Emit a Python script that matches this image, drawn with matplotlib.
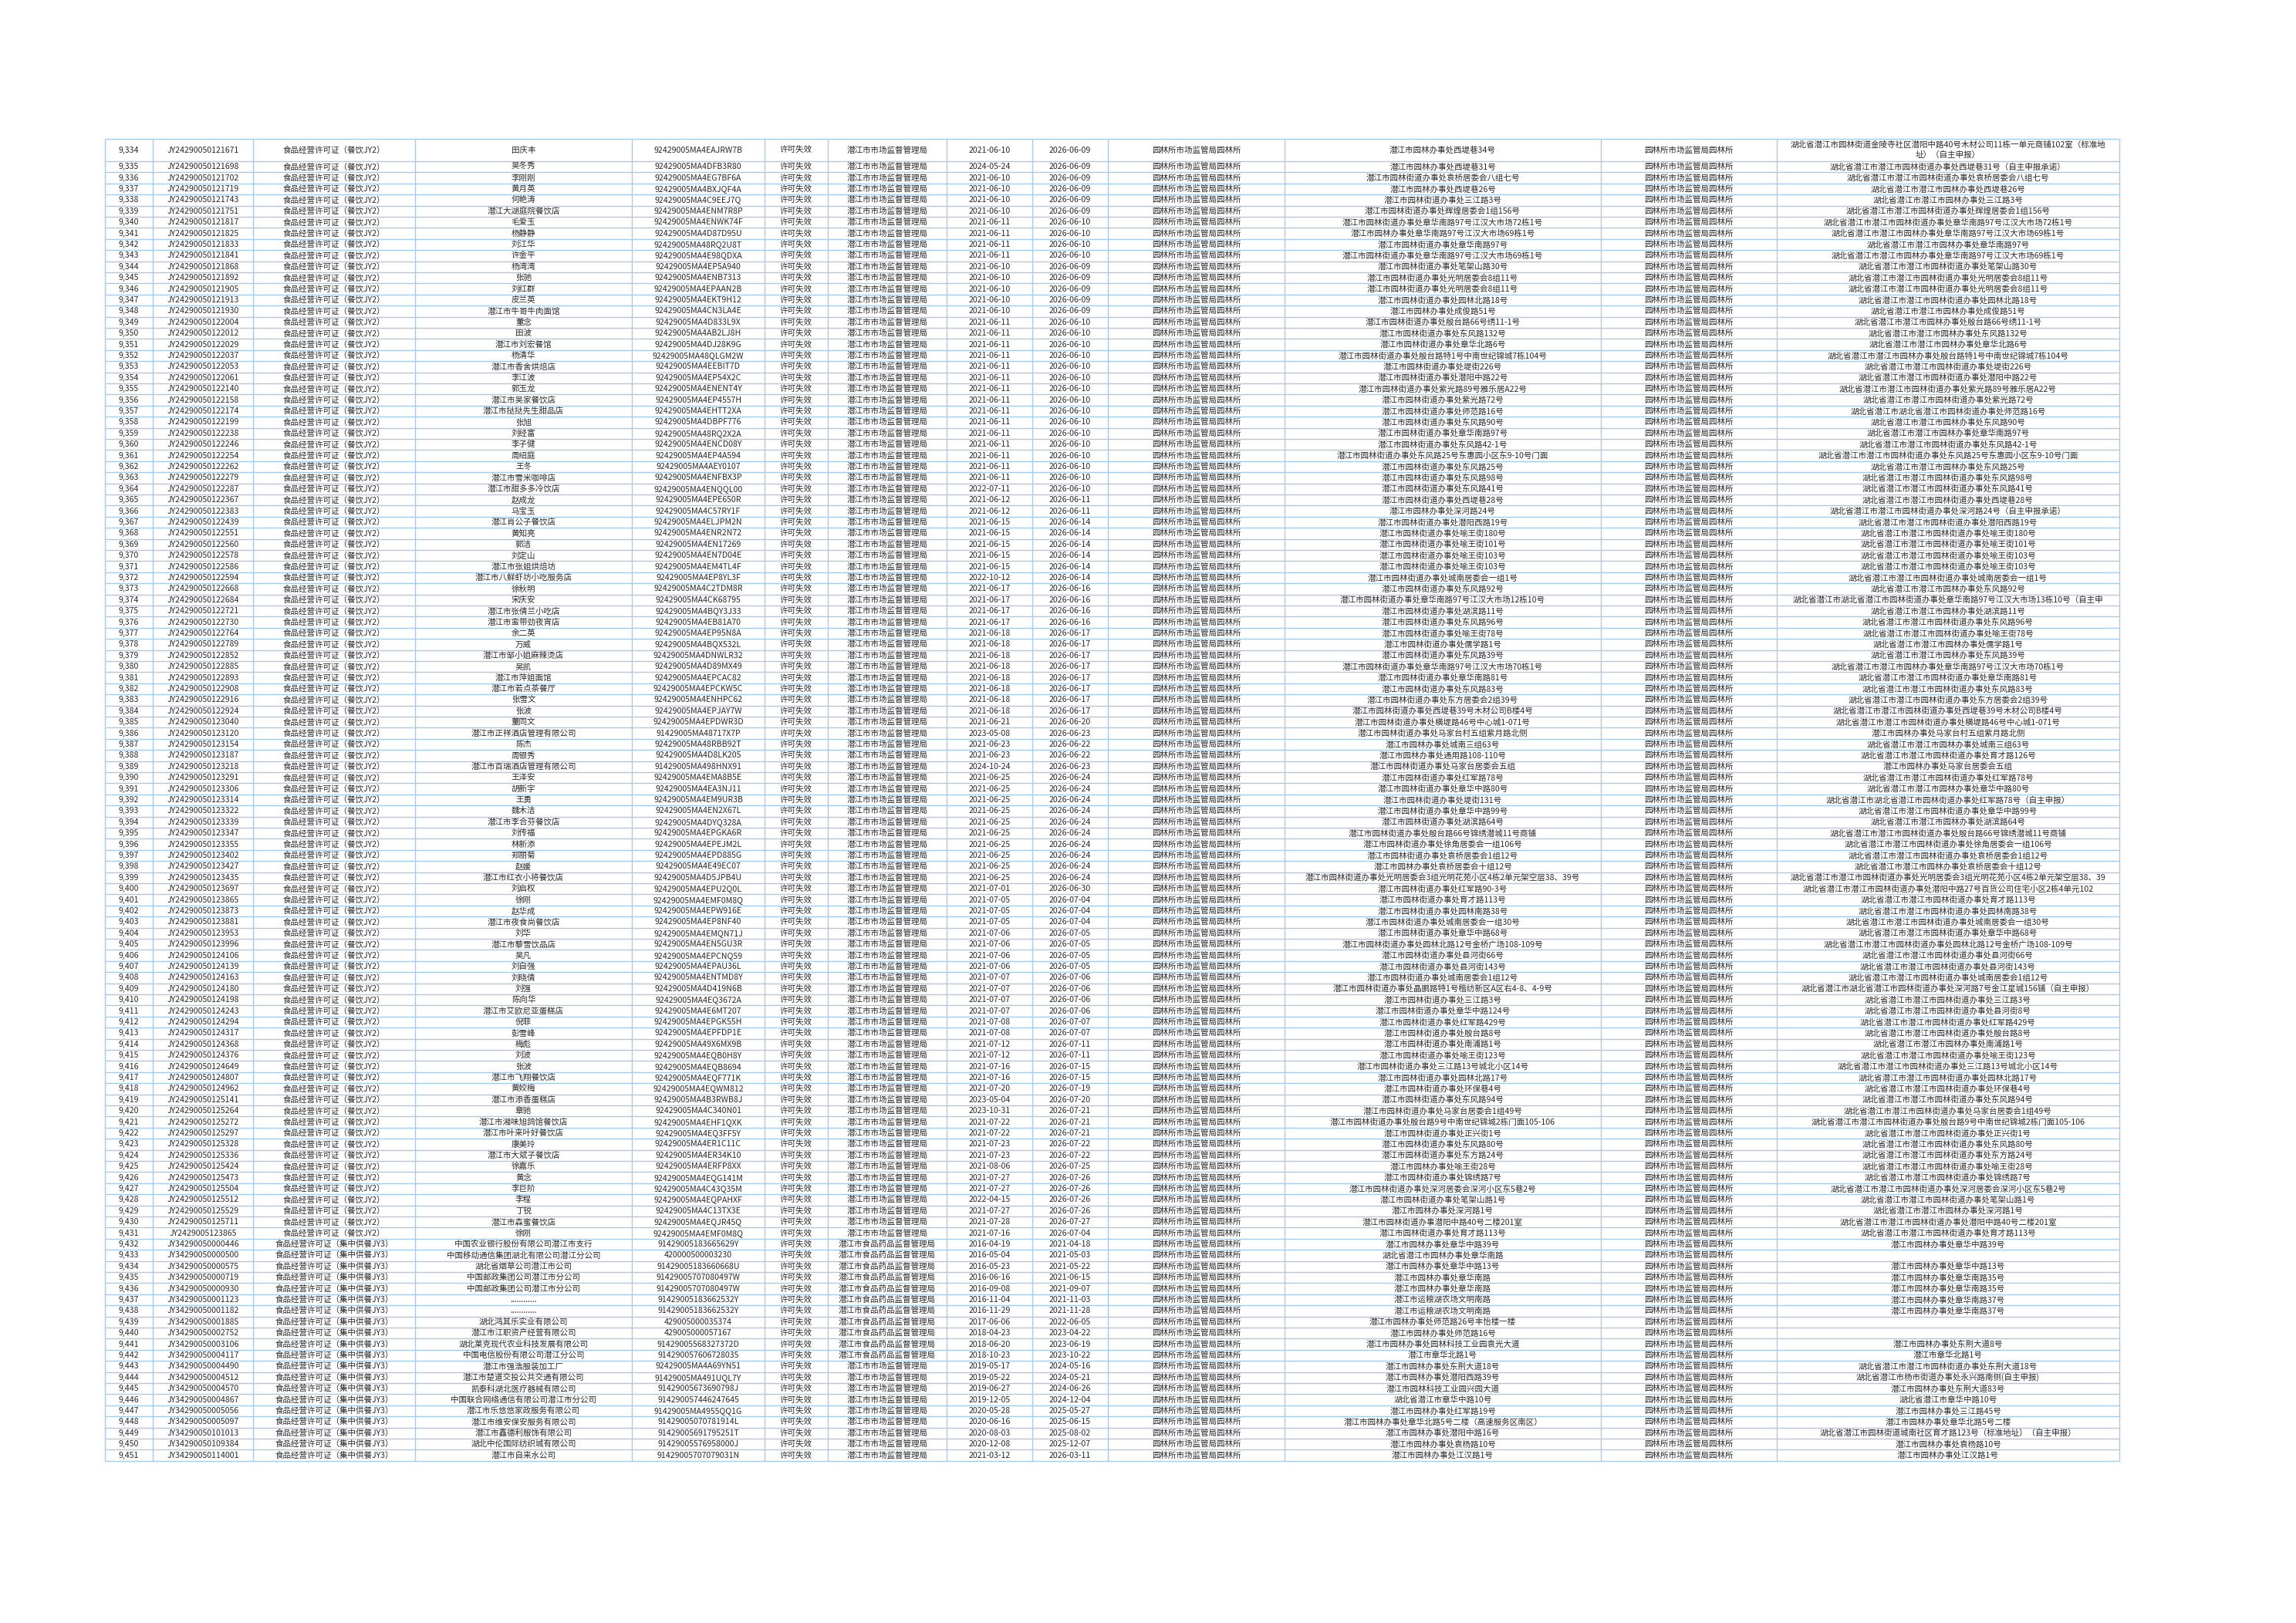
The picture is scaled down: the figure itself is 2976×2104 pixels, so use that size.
import matplotlib
matplotlib.use("Agg")
import matplotlib.pyplot as plt

plt.rcParams['font.family'] = ['Noto Sans CJK SC', 'DejaVu Sans']

# 表格数据
row_no = list(range(9334, 9452))

license_no = [
    "JY24290050121671", "JY24290050121698", "JY24290050121702", "JY24290050121719", "JY24290050121743",
    "JY24290050121751", "JY24290050121817", "JY24290050121825", "JY24290050121833", "JY24290050121841",
    "JY24290050121868", "JY24290050121892", "JY24290050121905", "JY24290050121913", "JY24290050121930",
    "JY24290050122004", "JY24290050122012", "JY24290050122029", "JY24290050122037", "JY24290050122053",
    "JY24290050122061", "JY24290050122140", "JY24290050122158", "JY24290050122174", "JY24290050122199",
    "JY24290050122238", "JY24290050122246", "JY24290050122254", "JY24290050122262", "JY24290050122279",
    "JY24290050122287", "JY24290050122367", "JY24290050122383", "JY24290050122439", "JY24290050122551",
    "JY24290050122560", "JY24290050122578", "JY24290050122586", "JY24290050122594", "JY24290050122668",
    "JY24290050122684", "JY24290050122721", "JY24290050122730", "JY24290050122764", "JY24290050122789",
    "JY24290050122852", "JY24290050122885", "JY24290050122893", "JY24290050122908", "JY24290050122916",
    "JY24290050122924", "JY24290050123040", "JY24290050123120", "JY24290050123154", "JY24290050123187",
    "JY24290050123218", "JY24290050123291", "JY24290050123306", "JY24290050123314", "JY24290050123322",
    "JY24290050123339", "JY24290050123347", "JY24290050123355", "JY24290050123402", "JY24290050123427",
    "JY24290050123435", "JY24290050123697", "JY24290050123865", "JY24290050123873", "JY24290050123881",
    "JY24290050123953", "JY24290050123996", "JY24290050124106", "JY24290050124139", "JY24290050124163",
    "JY24290050124180", "JY24290050124198", "JY24290050124243", "JY24290050124294", "JY24290050124317",
    "JY24290050124368", "JY24290050124376", "JY24290050124649", "JY24290050124807", "JY24290050124962",
    "JY24290050125141", "JY24290050125264", "JY24290050125272", "JY24290050125297", "JY24290050125328",
    "JY24290050125336", "JY24290050125424", "JY24290050125473", "JY24290050125504", "JY24290050125512",
    "JY24290050125529", "JY24290050125711", "JY2429005123865",
    "JY34290050000446", "JY34290050000500", "JY34290050000575", "JY34290050000719", "JY34290050000930",
    "JY34290050001123", "JY34290050001182", "JY34290050001885", "JY34290050002752", "JY34290050003106",
    "JY34290050004117", "JY34290050004490", "JY34290050004512", "JY34290050004570", "JY34290050004867",
    "JY34290050005056", "JY34290050005097", "JY34290050101013", "JY34290050109384", "JY34290050114001",
]

license_type = ["食品经营许可证（餐饮JY2）"] * 98 + ["食品经营许可证（集中供餐JY3）"] * 20

names = [
    "田庆丰", "吴冬秀", "李刚刚", "黄月英", "何艳涛", "潜江大湖庭院餐饮店", "毛爱玉", "杨静静", "刘江华", "许金平",
    "杨湾湾", "张驰", "刘红群", "皮兰英", "潜江市牛哥牛肉面馆", "董念", "田波", "潜江市刘宏餐馆", "杨清华",
    "潜江市香舍烘焙店", "李江波", "郭玉龙", "潜江市吴家餐饮店", "潜江市挞挞先生甜品店", "张旭", "刘经富", "李子健",
    "周绍庭", "王冬", "潜江市雪米咖啡店", "潜江市甜多多冷饮店", "赵成龙", "马宝玉", "潜江肖公子餐饮店", "黄知亮",
    "郭洁", "刘定山", "潜江市张姐烘焙坊", "潜江市八鲜虾坊小吃服务店", "徐秋明", "宋庆安", "潜江市张倩兰小吃店",
    "潜江市蛮带劲夜宵店", "余二英", "万威", "潜江市邹小姐麻辣烫店", "吴凯", "潜江市萍姐面馆", "潜江市若点茶餐厅",
    "张雪文", "张波", "董同文", "潜江市正祥酒店管理有限公司", "陈杰", "周银秀", "潜江市百瑞酒店管理有限公司",
    "王泽安", "胡新宇", "王勇", "魏木洁", "潜江市李合芬餐饮店", "刘传福", "林新添", "郑丽菊", "赵媛",
    "潜江市红衣小将餐饮店", "刘启权", "徐刚", "赵华成", "潜江市夜食尚餐饮店", "刘华", "潜江市藜雪饮品店", "吴凡",
    "刘自强", "刘晓倩", "刘强", "陈向华", "潜江市艾欧尼亚蛋糕店", "倪菲", "彭雪峰", "梅彪", "刘波", "张波",
    "潜江市飞翔餐饮店", "黄姣梅", "潜江市添香蛋糕店", "章驰", "潜江市湘味旭鸽馆餐饮店", "潜江市叶来叶好餐饮店",
    "康美玲", "潜江市大斌子餐饮店", "徐嘉乐", "黄念", "李巨阶", "李程", "丁锐", "潜江市森蜜餐饮店", "徐刚",
    "中国农业银行股份有限公司潜江市支行", "中国移动通信集团湖北有限公司潜江分公司", "湖北省烟草公司潜江市公司",
    "中国邮政集团公司潜江市分公司", "中国邮政集团公司潜江市分公司", "............", "............",
    "湖北鸿其乐实业有限公司", "潜江市江职资产经营有限公司", "湖北莱克现代农业科技发展有限公司",
    "中国电信股份有限公司潜江分公司", "潜江市强浩服装加工厂", "潜江市楚道交投公共交通有限公司",
    "凯泰科湖北医疗器械有限公司", "中国联合网络通信有限公司潜江市分公司", "潜江市乐悠悠家政服务有限公司",
    "潜江市维安保安服务有限公司", "潜江市鑫德利服饰有限公司", "湖北中伦国际纺织城有限公司", "潜江市自来水公司",
]

credit_code = [
    "92429005MA4EAJRW7B", "92429005MA4DFB3R80", "92429005MA4EG7BF6A", "92429005MA4BXJQF4A", "92429005MA4C9EEJ7Q",
    "92429005MA4ENM7R8P", "92429005MA4ENWK74F", "92429005MA4D87D95U", "92429005MA48RQ2U8T", "92429005MA4E98QDXA",
    "92429005MA4EP5A940", "92429005MA4ENB7313", "92429005MA4EPAAN2B", "92429005MA4EKT9H12", "92429005MA4CN3LA4E",
    "92429005MA4D833L9X", "92429005MA4AB2LJ8H", "92429005MA4DJ28K9G", "92429005MA48QLGM2W", "92429005MA4EEBIT7D",
    "92429005MA4EP54X2C", "92429005MA4ENENT4Y", "92429005MA4EP4557H", "92429005MA4EHTT2XA", "92429005MA4DBPF776",
    "92429005MA48RQ2X2A", "92429005MA4ENCD08Y", "92429005MA4EP4A594", "92429005MA4AEY0107", "92429005MA4ENFBX3P",
    "92429005MA4ENQQL00", "92429005MA4EPE650R", "92429005MA4C57RY1F", "92429005MA4ELJPM2N", "92429005MA4ENR2N72",
    "92429005MA4EN17269", "92429005MA4EN7D04E", "92429005MA4EM4TL4F", "92429005MA4EP8YL3F", "92429005MA4C2TDM8R",
    "92429005MA4CK68795", "92429005MA4BQY3J33", "92429005MA4EB81A70", "92429005MA4EP95N8A", "92429005MA4BQX532L",
    "92429005MA4DNWLR32", "92429005MA4D89MX49", "92429005MA4EPCAC82", "92429005MA4EPCKW5C", "92429005MA4ENHPC62",
    "92429005MA4EPJAY7W", "92429005MA4EPDWR3D", "91429005MA48717X7P", "92429005MA48RBB92T", "92429005MA4D8LK205",
    "91429005MA498HNX91", "92429005MA4EMA8B5E", "92429005MA4EA3NJ11", "92429005MA4EM9UR3B", "92429005MA4EN2X67L",
    "92429005MA4DYQ328A", "92429005MA4EPGKA6R", "92429005MA4EPEJM2L", "92429005MA4EPD885G", "92429005MA4E49EC07",
    "92429005MA4D5JPB4U", "92429005MA4EPU2Q0L", "92429005MA4EMF0M8Q", "92429005MA4EPW916E", "92429005MA4EP8NF40",
    "92429005MA4EMQN71J", "92429005MA4EN5GU3R", "92429005MA4EPCNQ59", "92429005MA4EPAU36L", "92429005MA4ENTMD8Y",
    "92429005MA4D419N6B", "92429005MA4EQ3672A", "92429005MA4E6MT207", "92429005MA4EPGK55H", "92429005MA4EPFDP1E",
    "92429005MA49X6MX9B", "92429005MA4EQB0H8Y", "92429005MA4EQB8694", "92429005MA4EQF771K", "92429005MA4EQWM812",
    "92429005MA4B3RWB8J", "92429005MA4C340N01", "92429005MA4EHF1QXK", "92429005MA4EQ3FF5Y", "92429005MA4ER1C11C",
    "92429005MA4ER34K10", "92429005MA4ERFP8XX", "92429005MA4EQG141M", "92429005MA4C43Q35M", "92429005MA4EQPAHXF",
    "92429005MA4C13TX3E", "92429005MA4EQJR45Q", "92429005MA4EMF0M8Q",
    "91429005183665629Y", "420000500003230", "91429005183660668U", "91429005707080497W", "91429005707080497W",
    "91429005183662532Y", "91429005183662532Y", "429005000035374", "429005000057167", "91429005568327372D",
    "914290057606728035", "92429005MA4A69YN51", "91429005MA491UQL7Y", "91429005673690798J", "914290057446247645",
    "91429005MA4955QQ1G", "91429005070781914L", "91429005691795251T", "91429005576958000J", "91429005707079031N",
]

status = ["许可失效"] * 118
authority = ["潜江市市场监督管理局"] * 98 + ["潜江市食品药品监督管理局"] * 11 + ["潜江市市场监督管理局"] * 9

issue_date = [
    "2021-06-10", "2024-05-24", "2021-06-10", "2021-06-10", "2021-06-10", "2021-06-10", "2021-06-11", "2021-06-11",
    "2021-06-11", "2021-06-11", "2021-06-10", "2021-06-10", "2021-06-10", "2021-06-10", "2021-06-10", "2021-06-11",
    "2021-06-11", "2021-06-11", "2021-06-11", "2021-06-11", "2021-06-11", "2021-06-11", "2021-06-11", "2021-06-11",
    "2021-06-11", "2021-06-11", "2021-06-11", "2021-06-11", "2021-06-11", "2021-06-11", "2022-07-11", "2021-06-12",
    "2021-06-12", "2021-06-15", "2021-06-15", "2021-06-15", "2021-06-15", "2021-06-15", "2022-10-12", "2021-06-17",
    "2021-06-17", "2021-06-17", "2021-06-17", "2021-06-18", "2021-06-18", "2021-06-18", "2021-06-18", "2021-06-18",
    "2021-06-18", "2021-06-18", "2021-06-18", "2021-06-21", "2023-05-08", "2021-06-23", "2021-06-23", "2024-10-24",
    "2021-06-25", "2021-06-25", "2021-06-25", "2021-06-25", "2021-06-25", "2021-06-25", "2021-06-25", "2021-06-25",
    "2021-06-25", "2021-06-25", "2021-07-01", "2021-07-05", "2021-07-05", "2021-07-05", "2021-07-06", "2021-07-06",
    "2021-07-06", "2021-07-06", "2021-07-07", "2021-07-07", "2021-07-07", "2021-07-07", "2021-07-08", "2021-07-08",
    "2021-07-12", "2021-07-12", "2021-07-16", "2021-07-16", "2021-07-20", "2023-05-04", "2023-10-31", "2021-07-22",
    "2021-07-22", "2021-07-23", "2021-07-23", "2021-08-06", "2021-07-27", "2021-07-27", "2022-04-15", "2021-07-27",
    "2021-07-28", "2021-07-16", "2016-04-19", "2016-05-04", "2016-05-23", "2016-06-16", "2016-09-08", "2016-11-04",
    "2016-11-29", "2017-06-06", "2018-04-23", "2018-06-20", "2018-10-23", "2019-05-17", "2019-05-22", "2019-06-27",
    "2019-12-05", "2020-05-28", "2020-06-16", "2020-08-03", "2020-12-08", "2021-03-12",
]

expire_date = [
    "2026-06-09", "2026-06-09", "2026-06-09", "2026-06-09", "2026-06-09", "2026-06-09", "2026-06-10", "2026-06-10",
    "2026-06-10", "2026-06-10", "2026-06-09", "2026-06-09", "2026-06-09", "2026-06-09", "2026-06-09", "2026-06-10",
    "2026-06-10", "2026-06-10", "2026-06-10", "2026-06-10", "2026-06-10", "2026-06-10", "2026-06-10", "2026-06-10",
    "2026-06-10", "2026-06-10", "2026-06-10", "2026-06-10", "2026-06-10", "2026-06-10", "2026-06-10", "2026-06-11",
    "2026-06-11", "2026-06-14", "2026-06-14", "2026-06-14", "2026-06-14", "2026-06-14", "2026-06-14", "2026-06-16",
    "2026-06-16", "2026-06-16", "2026-06-16", "2026-06-17", "2026-06-17", "2026-06-17", "2026-06-17", "2026-06-17",
    "2026-06-17", "2026-06-17", "2026-06-17", "2026-06-20", "2026-06-23", "2026-06-22", "2026-06-22", "2026-06-23",
    "2026-06-24", "2026-06-24", "2026-06-24", "2026-06-24", "2026-06-24", "2026-06-24", "2026-06-24", "2026-06-24",
    "2026-06-24", "2026-06-24", "2026-06-30", "2026-07-04", "2026-07-04", "2026-07-04", "2026-07-05", "2026-07-05",
    "2026-07-05", "2026-07-05", "2026-07-06", "2026-07-06", "2026-07-06", "2026-07-06", "2026-07-07", "2026-07-07",
    "2026-07-11", "2026-07-11", "2026-07-15", "2026-07-15", "2026-07-19", "2026-07-20", "2026-07-21", "2026-07-21",
    "2026-07-21", "2026-07-22", "2026-07-22", "2026-07-25", "2026-07-26", "2026-07-26", "2026-07-26", "2026-07-26",
    "2026-07-27", "2026-07-04", "2021-04-18", "2021-05-03", "2021-05-22", "2021-06-15", "2021-09-07", "2021-11-03",
    "2021-11-28", "2022-06-05", "2023-04-22", "2023-06-19", "2023-10-22", "2024-05-16", "2024-05-21", "2024-06-26",
    "2024-12-04", "2025-05-27", "2025-06-15", "2025-08-02", "2025-12-07", "2026-03-11",
]

office = ["园林所市场监管局园林所"] * 118

address = [
    "潜江市园林办事处西堤巷34号", "潜江市园林办事处西堤巷31号", "潜江市园林街道办事处袁桥居委会八组七号",
    "潜江市园林办事处西堤巷26号", "潜江市园林街道办事处三江路3号", "潜江市园林街道办事处辉煌居委会1组156号",
    "潜江市园林街道办事处章华南路97号江汉大市场72栋1号", "潜江市园林办事处章华南路97号江汉大市场69栋1号",
    "潜江市园林街道办事处章华南路97号", "潜江市园林街道办事处章华南路97号江汉大市场69栋1号",
    "潜江市园林街道办事处笔架山路30号", "潜江市园林街道办事处光明居委会8组11号", "潜江市园林街道办事处光明居委会8组11号",
    "潜江市园林街道办事处园林北路18号", "潜江市园林办事处成俊路51号", "潜江市园林街道办事处殷台路66号绣11-1号",
    "潜江市园林街道办事处东风路132号", "潜江市园林街道办事处章华北路6号",
    "潜江市园林街道办事处殷台路特1号中南世纪锦城7栋104号", "潜江市园林街道办事处堤街226号",
    "潜江市园林街道办事处潜阳中路22号", "潜江市园林街道办事处紫光路89号雅乐居A22号", "潜江市园林街道办事处紫光路72号",
    "潜江市园林街道办事处师范路16号", "潜江市园林街道办事处东风路90号", "潜江市园林街道办事处章华南路97号",
    "潜江市园林街道办事处东风路42-1号", "潜江市园林街道办事处东风路25号东惠园小区东9-10号门面",
    "潜江市园林街道办事处东风路25号", "潜江市园林街道办事处东风路98号", "潜江市园林街道办事处东风路41号",
    "潜江市园林街道办事处西堤巷28号", "潜江市园林办事处深河路24号", "潜江市园林街道办事处潜阳西路19号",
    "潜江市园林街道办事处喻王街180号", "潜江市园林街道办事处喻王街101号", "潜江市园林街道办事处喻王街103号",
    "潜江市园林街道办事处喻王街103号", "潜江市园林街道办事处城南居委会一组1号", "潜江市园林街道办事处东风路92号",
    "潜江市园林街道办事处章华南路97号江汉大市场12栋10号", "潜江市园林街道办事处湖滨路11号",
    "潜江市园林街道办事处东风路96号", "潜江市园林街道办事处喻王街78号", "潜江市园林街道办事处儒学路1号",
    "潜江市园林街道办事处东风路39号", "潜江市园林街道办事处章华南路97号江汉大市场70栋1号",
    "潜江市园林街道办事处章华南路81号", "潜江市园林街道办事处东风路83号", "潜江市园林街道办事处东方居委会2组39号",
    "潜江市园林街道办事处西堤巷39号木材公司B楼4号", "潜江市园林街道办事处横堤路46号中心城1-071号",
    "潜江市园林街道办事处马家台村五组紫月路北侧", "潜江市园林办事处城南三组63号", "潜江市园林办事处通用路108-110号",
    "潜江市园林街道办事处马家台居委会五组", "潜江市园林街道办事处红军路78号", "潜江市园林街道办事处章华中路80号",
    "潜江市园林街道办事处堤街131号", "潜江市园林街道办事处章华中路99号", "潜江市园林街道办事处湖滨路64号",
    "潜江市园林街道办事处殷台路66号锦绣潜城11号商铺", "潜江市园林街道办事处徐角居委会一组106号",
    "潜江市园林街道办事处袁桥居委会1组12号", "潜江市园林办事处袁桥居委会十组12号",
    "潜江市园林街道办事处光明居委会3组光明花苑小区4栋2单元架空层38、39号", "潜江市园林街道办事处红军路90-3号",
    "潜江市园林街道办事处育才路113号", "潜江市园林街道办事处园林南路38号", "潜江市园林街道办事处城南居委会一组30号",
    "潜江市园林街道办事处章华中路68号", "潜江市园林街道办事处园林北路12号金桥广场108-109号",
    "潜江市园林街道办事处县河街66号", "潜江市园林街道办事处县河街143号", "潜江市园林街道办事处城南居委会1组12号",
    "潜江市园林街道办事处晶鹏路特1号楷纺新区A区右4-8、4-9号", "潜江市园林街道办事处三江路3号",
    "潜江市园林街道办事处章华中路124号", "潜江市园林街道办事处红军路429号", "潜江市园林街道办事处殷台路8号",
    "潜江市园林街道办事处南浦路1号", "潜江市园林街道办事处喻王街123号", "潜江市园林街道办事处三江路13号城北小区14号",
    "潜江市园林街道办事处园林北路17号", "潜江市园林街道办事处环保巷4号", "潜江市园林街道办事处东风路94号",
    "潜江市园林街道办事处马家台居委会1组49号", "潜江市园林街道办事处殷台路9号中南世纪锦城2栋门面105-106",
    "潜江市园林街道办事处正兴街1号", "潜江市园林街道办事处东风路80号", "潜江市园林街道办事处东方路24号",
    "潜江市园林办事处喻王街28号", "潜江市园林街道办事处锦绣路7号", "潜江市园林街道办事处深河居委会深河小区东5巷2号",
    "潜江市园林街道办事处笔架山路1号", "潜江市园林办事处深河路1号", "潜江市园林街道办事潜阳中路40号二楼201室",
    "潜江市园林街道办事处育才路113号", "潜江市园林办事处章华中路39号", "湖北省潜江市园林办事处章华南路",
    "潜江市园林办事处章华中路13号", "潜江市园林办事处章华南路", "潜江市园林办事处章华南路",
    "潜江市运粮湖农场文明南路", "潜江市运粮湖农场文明南路", "潜江市园林办事处师范路26号丰怡楼一楼",
    "潜江市园林办事处师范路16号", "潜江市园林办事处园林科技工业园袁光大道", "潜江市章华北路1号",
    "潜江市园林办事处东荆大道18号", "潜江市园林办事处潜阳西路39号", "潜江市园林科技工业园兴园大道",
    "湖北省潜江市章华中路10号", "潜江市园林办事处红军路19号", "潜江市园林办事处章华北路5号二楼（高速服务区南区）",
    "潜江市园林办事处潜阳中路16号", "潜江市园林办事处袁杨路10号", "潜江市园林办事处江汉路1号",
]

office2 = ["园林所市场监管局园林所"] * 118

address2 = [
    "湖北省潜江市园林街道金陵寺社区潜阳中路40号木材公司11栋一单元商铺102室（标准地\n址）（自主申报）",
    "湖北省潜江市潜江市园林街道办事处西堤巷31号（自主申报承诺）", "湖北省潜江市潜江市园林街道办事处袁桥居委会八组七号",
    "湖北省潜江市潜江市园林办事处西堤巷26号", "湖北省潜江市潜江市园林办事处三江路3号",
    "湖北省潜江市潜江市园林街道办事处辉煌居委会1组156号", "湖北省潜江市潜江市园林街道办事处章华南路97号江汉大市场72栋1号",
    "湖北省潜江市潜江市园林办事处章华南路97号江汉大市场69栋1号", "湖北省潜江市潜江市园林办事处章华南路97号",
    "湖北省潜江市潜江市园林办事处章华南路97号江汉大市场69栋1号", "湖北省潜江市潜江市园林街道办事处笔架山路30号",
    "湖北省潜江市潜江市园林街道办事处光明居委会8组11号", "湖北省潜江市潜江市园林街道办事处光明居委会8组11号",
    "湖北省潜江市潜江市园林街道办事处园林北路18号", "湖北省潜江市潜江市园林办事处成俊路51号",
    "湖北省潜江市潜江市园林办事处殷台路66号绣11-1号", "湖北省潜江市潜江市园林办事处东风路132号",
    "湖北省潜江市潜江市园林办事处章华北路6号", "湖北省潜江市潜江市园林办事处殷台路特1号中南世纪锦城7栋104号",
    "湖北省潜江市潜江市园林街道办事处堤街226号", "湖北省潜江市潜江市园林街道办事处潜阳中路22号",
    "湖北省潜江市潜江市园林街道办事处紫光路89号雅乐居A22号", "湖北省潜江市潜江市园林街道办事处紫光路72号",
    "湖北省潜江市湖北省潜江市园林街道办事处师范路16号", "湖北省潜江市潜江市园林办事处东风路90号",
    "湖北省潜江市潜江市园林办事处章华南路97号", "湖北省潜江市潜江市园林街道办事处东风路42-1号",
    "湖北省潜江市潜江市园林街道办事处东风路25号东惠园小区东9-10号门面", "湖北省潜江市潜江市园林办事处东风路25号",
    "湖北省潜江市潜江市园林街道办事处东风路98号", "湖北省潜江市潜江市园林街道办事处东风路41号",
    "湖北省潜江市潜江市园林街道办事处西堤巷28号", "湖北省潜江市潜江市园林街道办事处深河路24号（自主申报承诺）",
    "湖北省潜江市潜江市园林街道办事处潜阳西路19号", "湖北省潜江市潜江市园林街道办事处喻王街180号",
    "湖北省潜江市潜江市园林街道办事处喻王街101号", "湖北省潜江市潜江市园林街道办事处喻王街103号",
    "湖北省潜江市潜江市园林街道办事处喻王街103号", "湖北省潜江市潜江市园林街道办事处城南居委会一组1号",
    "湖北省潜江市潜江市园林办事处东风路92号", "湖北省潜江市湖北省潜江市园林街道办事处章华南路97号江汉大市场13栋10号（自主申",
    "湖北省潜江市潜江市园林办事处湖滨路11号", "湖北省潜江市潜江市园林街道办事处东风路96号",
    "湖北省潜江市潜江市园林街道办事处喻王街78号", "湖北省潜江市潜江市园林办事处儒学路1号",
    "湖北省潜江市潜江市园林办事处东风路39号", "湖北省潜江市潜江市园林办事处章华南路97号江汉大市场70栋1号",
    "湖北省潜江市潜江市园林街道办事处章华南路81号", "湖北省潜江市潜江市园林街道办事处东风路83号",
    "湖北省潜江市潜江市园林街道办事处东方居委会2组39号", "湖北省潜江市潜江市园林街道办事处西堤巷39号木材公司B楼4号",
    "湖北省潜江市潜江市园林街道办事处横堤路46号中心城1-071号", "潜江市园林办事处马家台村五组紫月路北侧",
    "湖北省潜江市潜江市园林办事处城南三组63号", "湖北省潜江市潜江市园林街道办事处育才路126号",
    "潜江市园林办事处马家台居委会五组", "湖北省潜江市潜江市园林街道办事处红军路78号",
    "湖北省潜江市潜江市园林办事处章华中路80号", "湖北省潜江市湖北省潜江市园林街道办事处红军路78号（自主申报）",
    "湖北省潜江市潜江市园林街道办事处章华中路99号", "湖北省潜江市潜江市园林办事处湖滨路64号",
    "湖北省潜江市潜江市园林街道办事处殷台路66号锦绣潜城11号商铺", "湖北省潜江市潜江市园林街道办事处徐角居委会一组106号",
    "湖北省潜江市潜江市园林街道办事处袁桥居委会1组12号", "湖北省潜江市潜江市园林办事处袁桥居委会十组12号",
    "湖北省潜江市潜江市园林街道办事处光明居委会3组光明花苑小区4栋2单元架空层38、39",
    "湖北省潜江市潜江市园林街道办事处潜阳中路27号百货公司住宅小区2栋4单元102",
    "湖北省潜江市潜江市园林街道办事处育才路113号", "湖北省潜江市潜江市园林街道办事处园林南路38号",
    "湖北省潜江市潜江市园林街道办事处城南居委会一组30号", "湖北省潜江市潜江市园林街道办事处章华中路68号",
    "湖北省潜江市潜江市园林街道办事处园林北路12号金桥广场108-109号", "湖北省潜江市潜江市园林街道办事处县河街66号",
    "湖北省潜江市潜江市园林街道办事处县河街143号", "湖北省潜江市潜江市园林街道办事处城南居委会1组12号",
    "湖北省潜江市湖北省潜江市园林街道办事处深河路7号金江星城156铺（自主申报）", "湖北省潜江市潜江市园林街道办事处三江路3号",
    "湖北省潜江市潜江市园林街道办事处县河街8号", "湖北省潜江市潜江市园林街道办事处红军路429号",
    "湖北省潜江市潜江市园林街道办事处殷台路8号", "湖北省潜江市潜江市园林办事处南浦路1号",
    "湖北省潜江市潜江市园林街道办事处喻王街123号", "湖北省潜江市潜江市园林街道办事处三江路13号城北小区14号",
    "湖北省潜江市潜江市园林街道办事处园林北路17号", "湖北省潜江市潜江市园林街道办事处环保巷4号",
    "湖北省潜江市潜江市园林街道办事处东风路94号", "湖北省潜江市潜江市园林街道办事处马家台居委会1组49号",
    "湖北省潜江市潜江市园林街道办事处殷台路9号中南世纪锦城2栋门面105-106", "湖北省潜江市潜江市园林街道办事处正兴街1号",
    "湖北省潜江市潜江市园林街道办事处东风路80号", "湖北省潜江市潜江市园林街道办事处东方路24号",
    "湖北省潜江市潜江市园林街道办事处喻王街28号", "湖北省潜江市潜江市园林街道办事处锦绣路7号",
    "湖北省潜江市潜江市园林街道办事处深河居委会深河小区东5巷2号", "湖北省潜江市潜江市园林街道办事处笔架山路1号",
    "湖北省潜江市潜江市园林办事处深河路1号", "湖北省潜江市潜江市园林街道办事处潜阳中路40号二楼201室",
    "湖北省潜江市潜江市园林街道办事处育才路113号", "潜江市园林办事处章华中路39号", "",
    "潜江市园林办事处章华中路13号", "潜江市园林办事处章华南路35号", "潜江市园林办事处章华南路35号",
    "潜江市园林办事处章华南路37号", "潜江市园林办事处章华南路37号", "", "",
    "潜江市园林办事处东荆大道8号", "潜江市章华北路1号", "湖北省潜江市潜江市园林街道办事处东荆大道18号",
    "湖北省潜江市杨市街道办事处永兴路南侧(自主申报)", "潜江市园林办事处东荆大道83号", "湖北省潜江市章华中路10号",
    "潜江市园林办事处三江路45号", "潜江市园林办事处章华北路5号二楼",
    "湖北省潜江市园林街道城南社区育才路123号（标准地址）（自主申报）", "潜江市园林办事处袁杨路10号",
    "潜江市园林办事处江汉路1号",
]

columns = [[f"{n:,}" for n in row_no], license_no, license_type, names, credit_code, status,
           authority, issue_date, expire_date, office, address, office2, address2]
for c in columns:
    assert len(c) == len(row_no), len(c)

# 画布与表格布局（像素坐标）
W, H = 2976, 2104
fig = plt.figure(figsize=(W / 200, H / 200), dpi=200)
ax = fig.add_axes([0, 0, 1, 1])
ax.set_xlim(0, W)
ax.set_ylim(H, 0)
ax.axis('off')

col_edges = [136, 198, 328, 538, 819, 991, 1073, 1227, 1338, 1436, 1665, 2075, 2303, 2747]
row_h = 14.4
row_edges = [180, 209] + [209 + row_h * (k + 1) for k in range(len(row_no) - 1)]

grid_color = '#a9cbe9'
ax.hlines(row_edges, col_edges[0], col_edges[-1], colors=grid_color, lw=0.5)
ax.vlines(col_edges, row_edges[0], row_edges[-1], colors=grid_color, lw=0.5)

for i in range(len(row_no)):
    yc = (row_edges[i] + row_edges[i + 1]) / 2
    for j, col in enumerate(columns):
        xc = (col_edges[j] + col_edges[j + 1]) / 2
        ax.text(xc, yc, col[i], ha='center', va='center', fontsize=3.8,
                color='#2a2a2a', linespacing=1.3)

fig.savefig('out.png', dpi=200, facecolor='white')
